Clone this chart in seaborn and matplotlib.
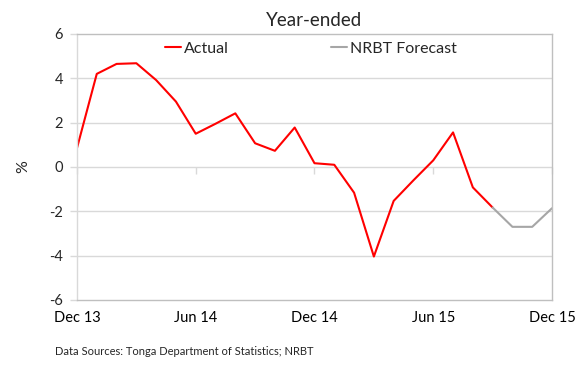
import numpy as np
import pandas as pd
import matplotlib
matplotlib.use("Agg")
import matplotlib.pyplot as plt
import seaborn as sns

months = ["Dec 13", "Jan 14", "Feb 14", "Mar 14", "Apr 14", "May 14", "Jun 14", "Jul 14",
          "Aug 14", "Sep 14", "Oct 14", "Nov 14", "Dec 14", "Jan 15", "Feb 15", "Mar 15",
          "Apr 15", "May 15", "Jun 15", "Jul 15", "Aug 15", "Sep 15", "Oct 15", "Nov 15", "Dec 15"]
actual = [0.85, 4.2, 4.65, 4.68, 3.92, 2.95, 1.5, 1.95, 2.42, 1.07, 0.73, 1.78,
          0.17, 0.1, -1.16, -4.04, -1.53, -0.6, 0.3, 1.56, -0.92, -1.83]
forecast = [-1.83, -2.7, -2.7, -1.86]
tick_labels = ["Dec 13", "Jun 14", "Dec 14", "Jun 15", "Dec 15"]

sns.set_style("white")
plt.rcParams["font.family"] = ["Lato", "DejaVu Sans"]

df_a = pd.DataFrame({"idx": np.arange(len(actual)), "val": actual})
df_f = pd.DataFrame({"idx": np.arange(len(months) - len(forecast), len(months)), "val": forecast})

fig = plt.figure(figsize=(5.77, 3.67), dpi=100)
ax = fig.add_axes([0.1334, 0.1826, 0.8233, 0.7248])

grid_c = "#D9D9D9"
for v in [-4, -2, 0, 2, 4]:
    ax.axhline(v, color=grid_c, lw=1.0, zorder=0)

sns.lineplot(data=df_a, x="idx", y="val", ax=ax, color="#FF0000", lw=1.5, label="Actual")
sns.lineplot(data=df_f, x="idx", y="val", ax=ax, color="#A6A6A6", lw=1.5, label="NRBT Forecast")

ax.set_xlim(0, len(months) - 1)
ax.set_ylim(-6, 6)
ax.set_yticks([-6, -4, -2, 0, 2, 4, 6])
ax.set_yticklabels(["-6", "-4", "-2", "0", "2", "4", "6"])
tick_pos = [months.index(t) for t in tick_labels]
ax.set_xticks(tick_pos)
ax.set_xticklabels(tick_labels)
ax.tick_params(axis="x", length=0, pad=8, labelsize=10.5, colors="#000000")
ax.tick_params(axis="y", length=5, width=1, color=grid_c, pad=5, labelsize=10.5, left=True)
for s in ax.spines.values():
    s.set_color("#BFBFBF")
    s.set_linewidth(1.0)
ax.spines["left"].set_color(grid_c)

sec = ax.secondary_xaxis(0.5)
sec.set_xticks(tick_pos)
sec.set_xticklabels([])
sec.tick_params(axis="x", which="both", direction="out", length=5, width=1,
                color=grid_c, bottom=True, top=False, labelbottom=False, labeltop=False)
for s in sec.spines.values():
    s.set_visible(False)

ax.set_xlabel("")
ax.set_ylabel("%", fontsize=11.5, labelpad=14)
ax.set_title("Year-ended", fontsize=13.5, pad=6)

ax.legend(ncol=2, loc="upper left", bbox_to_anchor=(0.185, 0.972), frameon=False,
          fontsize=11.5, handlelength=1.0, handletextpad=0.2, columnspacing=6.4,
          borderpad=0, borderaxespad=0)

fig.text(0.095, 0.032, "Data Sources: Tonga Department of Statistics; NRBT", fontsize=8)

fig.savefig("out.png", dpi=100)
